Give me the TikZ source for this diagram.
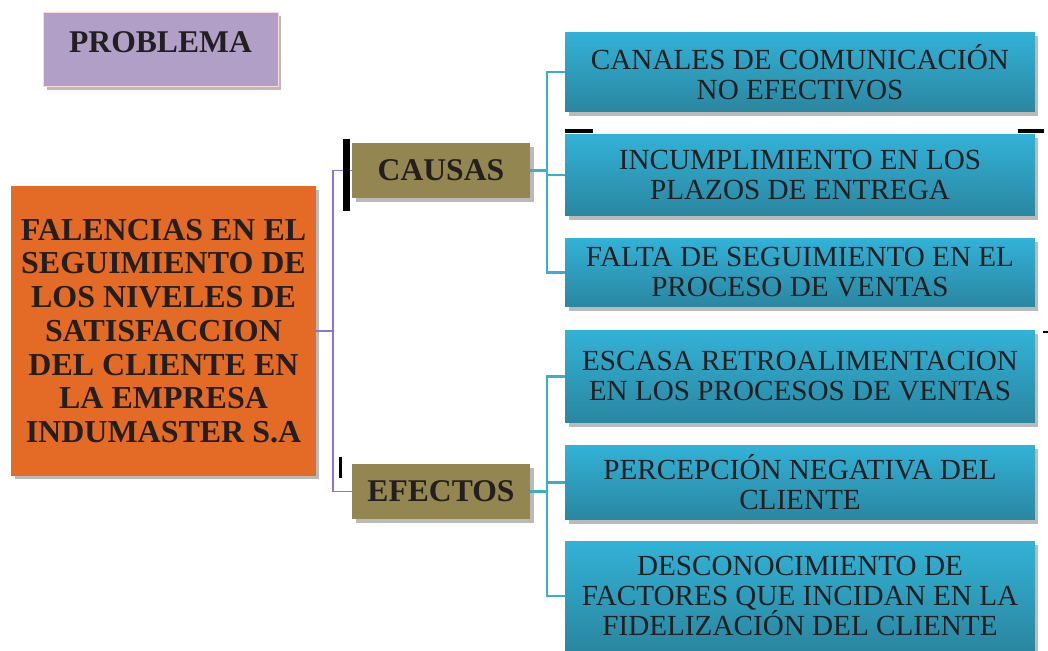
\documentclass[tikz,border=0pt]{standalone}
\usepackage{fontspec}
\setmainfont{Liberation Serif}
\usetikzlibrary{shadows}

\definecolor{lila}{HTML}{B19FC7}
\definecolor{naranja}{HTML}{E36B25}
\definecolor{oliva}{HTML}{948651}
\definecolor{celesteA}{HTML}{32B2D7}
\definecolor{celesteB}{HTML}{2A86A0}
\definecolor{tinta}{HTML}{231F20}
\definecolor{violeta}{HTML}{8E72D6}
\definecolor{turquesa}{HTML}{3AAFCB}

\tikzset{
  caja/.style={draw=none, align=center, text=tinta, inner sep=0pt,
    drop shadow={shadow xshift=2pt, shadow yshift=-2pt, fill=black!45, opacity=.6}},
  causa/.style={caja, shading=axis, top color=celesteA, bottom color=celesteB,
    minimum width=9.4cm, font=\fontsize{16.6}{17}\selectfont},
  rama/.style={caja, fill=oliva, minimum width=3.56cm, minimum height=1.1cm,
    font=\fontsize{18}{20}\selectfont\bfseries},
}

\begin{document}
\begin{tikzpicture}[x=0.02cm, y=-0.02cm]
			\useasboundingbox (0,0) rectangle (1048,651);
			% titulo y problema central
			\node[caja, fill=lila, draw=pink!60, minimum width=4.7cm, minimum height=1.48cm,
			  font=\fontsize{18}{19}\selectfont\bfseries] (prob) at (160.5,49) {\raisebox{8pt}{PROBLEMA}};
			\node[caja, fill=naranja, minimum width=6.1cm, minimum height=5.8cm,
			  font=\fontsize{18.2}{19.2}\selectfont\bfseries] (falla) at (163.5,331)
			  {FALENCIAS EN EL\\SEGUIMIENTO DE\\LOS NIVELES DE\\SATISFACCION\\DEL CLIENTE EN\\LA EMPRESA\\INDUMASTER S.A};
			% ramas
			\node[rama] (causas) at (441,170.5) {CAUSAS};
			\node[rama] (efectos) at (441,491.5) {EFECTOS};
			% causas
			\node[causa, minimum height=1.6cm] (c1) at (800,72) {CANALES DE COMUNICACIÓN\\NO EFECTIVOS};
			\node[causa, minimum height=1.64cm] (c2) at (800,175) {INCUMPLIMIENTO EN LOS\\PLAZOS DE ENTREGA};
			\node[causa, minimum height=1.38cm] (c3) at (800,272.5) {FALTA DE SEGUIMIENTO EN EL\\PROCESO DE VENTAS};
			% efectos
			\node[causa, minimum height=1.86cm] (e1) at (800,376.5) {ESCASA RETROALIMENTACION\\EN LOS PROCESOS DE VENTAS};
			\node[causa, minimum height=1.5cm] (e2) at (800,482.5) {PERCEPCIÓN NEGATIVA DEL\\CLIENTE};
			\node[causa, minimum height=2.2cm] (e3) at (800,596) {DESCONOCIMIENTO DE\\FACTORES QUE INCIDAN EN LA\\FIDELIZACIÓN DEL CLIENTE};
			% conectores
			\draw[violeta, line width=1pt] (falla.east) -- ++(17,0) coordinate (M) |- (causas.west);
			\draw[violeta, line width=1pt] (M) |- (efectos.west);
			\draw[turquesa, line width=1.2pt] (causas.east) -- ++(17,0) coordinate (C) |- (c1.west);
			\draw[turquesa, line width=1.2pt] (C) |- (c2.west);
			\draw[turquesa, line width=1.2pt] (C) |- (c3.west);
			\draw[turquesa, line width=1.2pt] (efectos.east) -- ++(17,0) coordinate (E) |- (e1.west);
			\draw[turquesa, line width=1.2pt] (E) |- (e2.west);
			\draw[turquesa, line width=1.2pt] (E) |- (e3.west);
			% marcas negras
			\fill[black] (343,139) rectangle (350,211);
			\fill[black] (339,457) rectangle (342,478);
			\fill[black] (565,129) rectangle (593,133);
			\fill[black] (1018,129) rectangle (1044,133);
			\fill[black] (1043,331) rectangle (1048,333);
\end{tikzpicture}
\end{document}
